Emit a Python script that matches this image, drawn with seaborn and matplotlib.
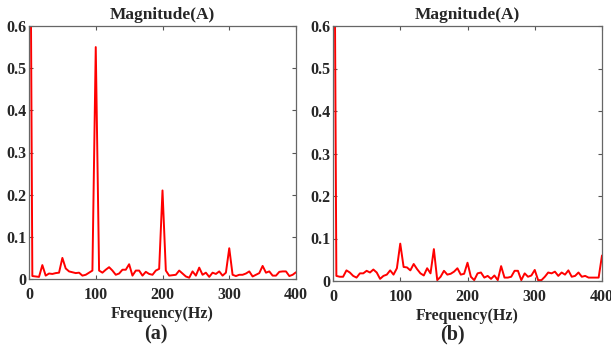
import numpy as np
import pandas as pd
import matplotlib
matplotlib.use("Agg")
import matplotlib.pyplot as plt
import seaborn as sns
from matplotlib.ticker import FuncFormatter

freq = list(range(0, 405, 5))

mag_a = [1.50, 0.007, 0.006, 0.005, 0.033, 0.008, 0.013, 0.012, 0.014, 0.015,
         0.050, 0.025, 0.018, 0.016, 0.014, 0.015, 0.008, 0.010, 0.015, 0.020,
         0.550, 0.020, 0.015, 0.022, 0.028, 0.020, 0.010, 0.013, 0.022, 0.022,
         0.035, 0.008, 0.020, 0.020, 0.008, 0.017, 0.012, 0.010, 0.020, 0.024,
         0.210, 0.020, 0.008, 0.009, 0.010, 0.020, 0.013, 0.006, 0.003, 0.018,
         0.008, 0.027, 0.010, 0.015, 0.005, 0.015, 0.012, 0.018, 0.008, 0.015,
         0.073, 0.010, 0.007, 0.010, 0.010, 0.013, 0.018, 0.006, 0.010, 0.014,
         0.031, 0.015, 0.018, 0.008, 0.008, 0.017, 0.018, 0.018, 0.007, 0.010,
         0.016]

mag_b = [1.50, 0.012, 0.010, 0.010, 0.025, 0.020, 0.012, 0.008, 0.018, 0.018,
         0.024, 0.020, 0.027, 0.020, 0.005, 0.012, 0.015, 0.025, 0.015, 0.030,
         0.088, 0.033, 0.032, 0.025, 0.040, 0.028, 0.018, 0.013, 0.030, 0.018,
         0.075, 0.002, 0.010, 0.024, 0.015, 0.017, 0.022, 0.030, 0.015, 0.017,
         0.043, 0.010, 0.002, 0.018, 0.020, 0.008, 0.012, 0.005, 0.013, 0.002,
         0.035, 0.008, 0.008, 0.010, 0.024, 0.024, 0.002, 0.018, 0.010, 0.013,
         0.026, 0.002, 0.002, 0.010, 0.020, 0.018, 0.022, 0.012, 0.020, 0.015,
         0.025, 0.010, 0.012, 0.020, 0.010, 0.012, 0.008, 0.008, 0.008, 0.008,
         0.060]

panel_labels = ["(a)", "(b)"]
title_text = "Magnitude(A)"
xlabel_text = "Frequency(Hz)"
x_ticks = [0, 100, 200, 300, 400]
y_ticks = [0, 0.1, 0.2, 0.3, 0.4, 0.5, 0.6]

sns.set_style("ticks")
plt.rcParams["font.family"] = ["Liberation Serif", "DejaVu Serif"]
plt.rcParams["font.weight"] = "bold"

W, H = 611, 346
fig = plt.figure(figsize=(W / 100, H / 100), dpi=100)

def px_axes(x0, x1, ytop, ybot):
    return fig.add_axes([x0 / W, (H - ybot) / H, (x1 - x0) / W, (ybot - ytop) / H])

axes = [px_axes(29, 296, 26, 279), px_axes(333, 602, 26, 281)]
series = [mag_a, mag_b]
label_x = [156, 452]

for ax, mag, lab, lx in zip(axes, series, panel_labels, label_x):
    df = pd.DataFrame({"freq": freq, "mag": mag})
    sns.lineplot(data=df, x="freq", y="mag", ax=ax, color="#ff0000", linewidth=1.4)
    ax.set_xlim(0, 400)
    ax.set_ylim(0, 0.6)
    ax.set_xticks(x_ticks)
    ax.set_yticks(y_ticks)
    ax.yaxis.set_major_formatter(FuncFormatter(lambda v, p: "0" if abs(v) < 1e-9 else f"{v:.1f}"))
    ax.tick_params(direction="in", top=True, right=True, length=3, width=0.8,
                   color="#555555", labelsize=11.5)
    ax.tick_params(axis="x", pad=6)
    ax.tick_params(axis="y", pad=2)
    for t in ax.get_xticklabels() + ax.get_yticklabels():
        t.set_fontweight("bold")
    for s in ax.spines.values():
        s.set_color("#666666")
        s.set_linewidth(0.9)
    ax.set_title(title_text, fontsize=12.5, fontweight="bold", pad=5)
    ax.set_xlabel(xlabel_text, fontsize=11.5, fontweight="bold", labelpad=2)
    ax.set_ylabel("")
    fig.text(lx / W, 1 - 334 / H, lab, ha="center", va="center",
             fontsize=14.5, fontweight="bold")

fig.savefig("out.png", dpi=100)
